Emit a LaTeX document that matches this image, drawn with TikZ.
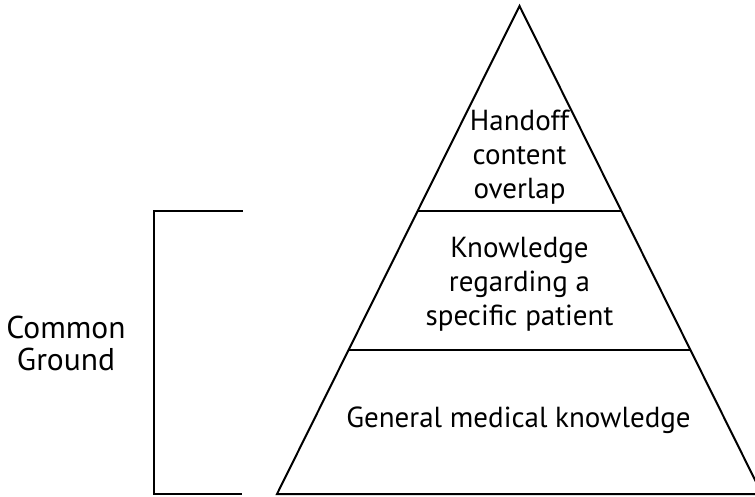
\documentclass[tikz,border=0pt]{standalone}
\usepackage{fontspec}
\setmainfont{PT Sans}
\begin{document}
\begin{tikzpicture}[x=1pt,y=-1pt,
  edge/.style={line width=2pt, line join=miter},
  label/.style={align=center, font=\fontsize{29}{34}\selectfont, inner sep=0pt},
  sidelabel/.style={align=center, font=\fontsize{31.5}{32}\selectfont, inner sep=0pt}]
\useasboundingbox (0,0) rectangle (755,497);
\clip (0,0) rectangle (755,497);
\coordinate (apex) at (519.5,6);
\coordinate (bl) at (277,494);
\coordinate (br) at (762,494);
\coordinate (l1) at (417.6,211);
\coordinate (r1) at (621.4,211);
\coordinate (l2) at (348.5,350);
\coordinate (r2) at (690.5,350);
\draw[edge] (bl) -- (apex) -- (br) -- cycle;
\draw[edge] (l1) -- (r1);
\draw[edge] (l2) -- (r2);
\coordinate (bt) at (242.5,211.5);
\coordinate (bb) at (242,494);
\draw[edge] (bt) -- (154,211.5) -- (154,494) -- (bb);
\node[label] (handoff) at (519.5,157) {Handoff\\content\\overlap};
\node[label] (patient) at (519.5,284) {Knowledge\\regarding a\\specific patient};
\node[label] (general) at (518.5,420) {General medical knowledge};
\node[sidelabel] (common) at (66,343) {Common\\Ground};
\end{tikzpicture}
\end{document}
